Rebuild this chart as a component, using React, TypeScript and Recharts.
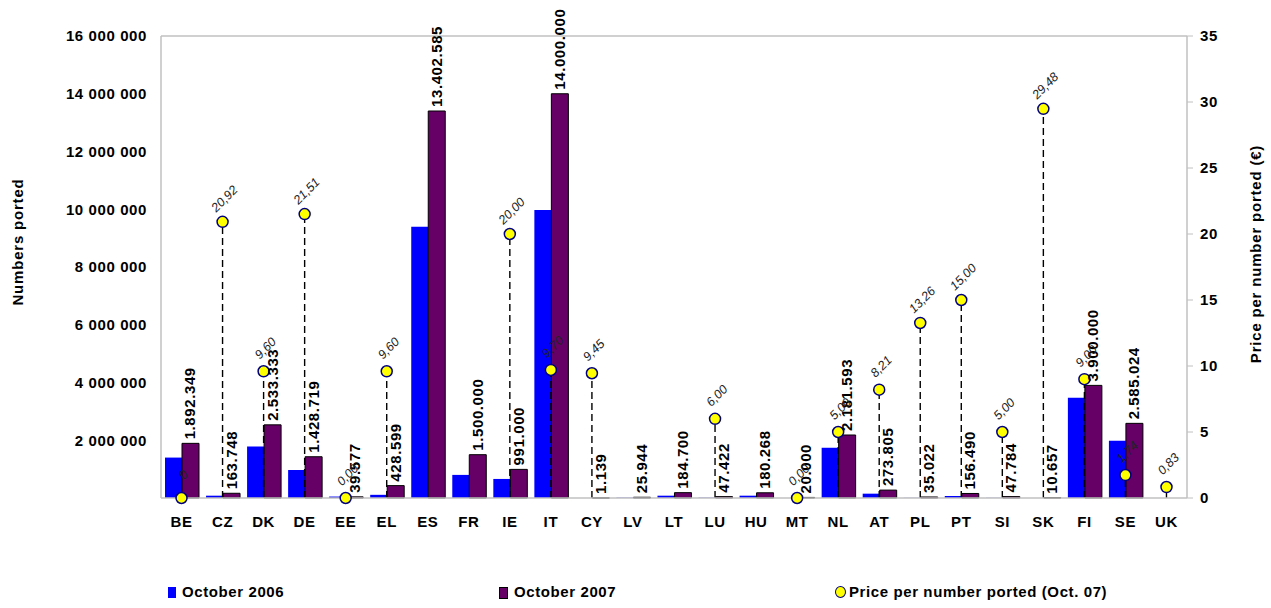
import { ComposedChart, Bar, Line, XAxis, YAxis, LabelList, ReferenceLine, Legend, Label } from "recharts";

const countries = ["BE", "CZ", "DK", "DE", "EE", "EL", "ES", "FR", "IE", "IT", "CY", "LV", "LT", "LU", "HU", "MT", "NL", "AT", "PL", "PT", "SI", "SK", "FI", "SE", "UK"];
const oct2006 = [1400000, 80000, 1780000, 970000, 50000, 110000, 9390000, 800000, 660000, 9970000, 0, 10000, 80000, 10000, 80000, 0, 1740000, 150000, 5000, 70000, 5000, 0, 3470000, 1980000, null];
const oct2007 = [1892349, 163748, 2533333, 1428719, 39577, 428599, 13402585, 1500000, 991000, 14000000, 1139, 25944, 184700, 47422, 180268, 20000, 2181593, 273805, 35022, 156490, 47784, 10657, 3900000, 2585024, null];
const prices = [0, 20.92, 9.6, 21.51, 0, 9.6, null, null, 20.0, 9.7, 9.45, null, null, 6.0, null, 0, 5.0, 8.21, 13.26, 15.0, 5.0, 29.48, 9.0, 1.74, 0.83];
const priceLabels = ["0", "20,92", "9,60", "21,51", "0,00", "9,60", "", "", "20,00", "9,70", "9,45", "", "", "6,00", "", "0,00", "5,00", "8,21", "13,26", "15,00", "5,00", "29,48", "9,00", "1,74", "0,83"];
const leftTicks = [2000000, 4000000, 6000000, 8000000, 10000000, 12000000, 14000000, 16000000];
const rightTicks = [0, 5, 10, 15, 20, 25, 30, 35];

const data = countries.map((c, i) => ({
  country: c,
  oct2006: oct2006[i],
  oct2007: oct2007[i],
  price: prices[i],
  priceLabel: priceLabels[i],
}));

const FONT = "'Liberation Sans', Arial, sans-serif";
const GRAY = "#c0c0c0";

const spaced = (v: number) => String(v).replace(/\B(?=(\d{3})+(?!\d))/g, " ");
const dotted = (v: number) => String(v).replace(/\B(?=(\d{3})+(?!\d))/g, ".");

const BarValue = (props: any) => {
  const { x, y, width, value } = props;
  if (value == null) return null;
  const tx = x + width / 2 + 5;
  const ty = y - 4;
  return (
    <text x={tx} y={ty} transform={`rotate(-90, ${tx}, ${ty})`} textAnchor="start"
      fontFamily={FONT} fontWeight="bold" fontSize={15} letterSpacing={0.6} fill="#000">
      {dotted(value)}
    </text>
  );
};

const PriceValue = (props: any) => {
  const { x, y, index } = props;
  const txt = priceLabels[index];
  if (!txt || prices[index] == null) return null;
  const tx = x + 2;
  const ty = y - 23;
  return (
    <text x={tx} y={ty} transform={`rotate(-45, ${tx}, ${ty})`} textAnchor="middle" dominantBaseline="central"
      fontFamily={FONT} fontStyle="italic" fontSize={12.5} fill="#222">
      {txt}
    </text>
  );
};

const PriceDot = (props: any) => {
  const { cx, cy, index } = props;
  if (prices[index] == null || cy == null) return <g key={`d${index}`} />;
  return <circle key={`d${index}`} cx={cx} cy={cy} r={5.5} fill="#ffff00" stroke="#000080" strokeWidth={1.5} />;
};

const LegendBox = () => (
  <div style={{ position: "relative", width: 1271, height: 24, fontFamily: FONT, fontWeight: "bold", fontSize: 15, letterSpacing: 0.6, color: "#000" }}>
    <span style={{ position: "absolute", left: 168, top: 7, width: 8, height: 11, background: "#0000ff" }} />
    <span style={{ position: "absolute", left: 182, top: 3, lineHeight: "18px" }}>October 2006</span>
    <span style={{ position: "absolute", left: 499, top: 7, width: 7, height: 10, background: "#660066", border: "1px solid #000" }} />
    <span style={{ position: "absolute", left: 514, top: 3, lineHeight: "18px" }}>October 2007</span>
    <span style={{ position: "absolute", left: 835, top: 6, width: 9, height: 10, borderRadius: "50%", background: "#ffff00", border: "1.5px solid #000080" }} />
    <span style={{ position: "absolute", left: 849, top: 3, lineHeight: "18px" }}>Price per number ported (Oct. 07)</span>
  </div>
);

export default function App() {
  return (
    <div style={{ position: "absolute", left: 0, top: 0, width: 1271, height: 608, background: "#fff" }}>
      <ComposedChart width={1271} height={608} data={data} margin={{ top: 36, right: 0, left: 0, bottom: 4 }} barCategoryGap={4} barGap={0}>
        <XAxis dataKey="country" height={82} tickLine={false} tickSize={6} tickMargin={12} axisLine={{ stroke: GRAY, strokeWidth: 1.5 }}
          interval={0} tick={{ fontFamily: FONT, fontWeight: "bold", fontSize: 15, fill: "#000", letterSpacing: 0.6 }} />
        <YAxis yAxisId="left" width={161} domain={[0, 16000000]} ticks={leftTicks} tickFormatter={spaced} tickLine={false}
          tickSize={6} tickMargin={8} axisLine={{ stroke: GRAY, strokeWidth: 1.5 }}
          tick={{ fontFamily: FONT, fontWeight: "bold", fontSize: 15, fill: "#000", letterSpacing: 0.6 }}>
          <Label content={(p: any) => {
            const vb = p.viewBox;
            const tx = vb.x + 17;
            const ty = vb.y + 206;
            return (
              <text x={tx} y={ty} transform={`rotate(-90, ${tx}, ${ty})`} textAnchor="middle" dominantBaseline="central"
                fontFamily={FONT} fontWeight="bold" fontSize={15} letterSpacing={0.8} fill="#000">Numbers ported</text>
            );
          }} />
        </YAxis>
        <YAxis yAxisId="right" orientation="right" width={84} domain={[0, 35]} ticks={rightTicks} tickSize={6} tickMargin={7}
          tickLine={{ stroke: GRAY }} axisLine={{ stroke: GRAY, strokeWidth: 1.5 }}
          tick={{ fontFamily: FONT, fontWeight: "bold", fontSize: 15, fill: "#000", letterSpacing: 0.6 }}>
          <Label content={(p: any) => {
            const vb = p.viewBox;
            const tx = vb.x + 68;
            const ty = vb.y + 218;
            return (
              <text x={tx} y={ty} transform={`rotate(-90, ${tx}, ${ty})`} textAnchor="middle" dominantBaseline="central"
                fontFamily={FONT} fontWeight="bold" fontSize={15} letterSpacing={0.8} fill="#000">Price per number ported (€)</text>
            );
          }} />
        </YAxis>
        <ReferenceLine yAxisId="left" y={16000000} stroke={GRAY} strokeWidth={1.5} />
        <Legend verticalAlign="bottom" content={LegendBox} />
        <Bar yAxisId="left" dataKey="oct2006" name="October 2006" fill="#0000ff" isAnimationActive={false} />
        <Bar yAxisId="left" dataKey="oct2007" name="October 2007" fill="#660066" stroke="#000" strokeWidth={1} isAnimationActive={false}>
          <LabelList dataKey="oct2007" content={BarValue} />
        </Bar>
        {data.filter((d) => d.price != null && d.price > 0).map((d) => (
          <ReferenceLine key={d.country} yAxisId="right" stroke="#000" strokeWidth={1.4} strokeDasharray="7 4"
            segment={[{ x: d.country, y: 0 }, { x: d.country, y: d.price as number }]} />
        ))}
        <Line yAxisId="right" dataKey="price" name="Price per number ported (Oct. 07)" stroke="none" dot={PriceDot} activeDot={false}
          isAnimationActive={false}>
          <LabelList dataKey="price" content={PriceValue} />
        </Line>
      </ComposedChart>
    </div>
  );
}
